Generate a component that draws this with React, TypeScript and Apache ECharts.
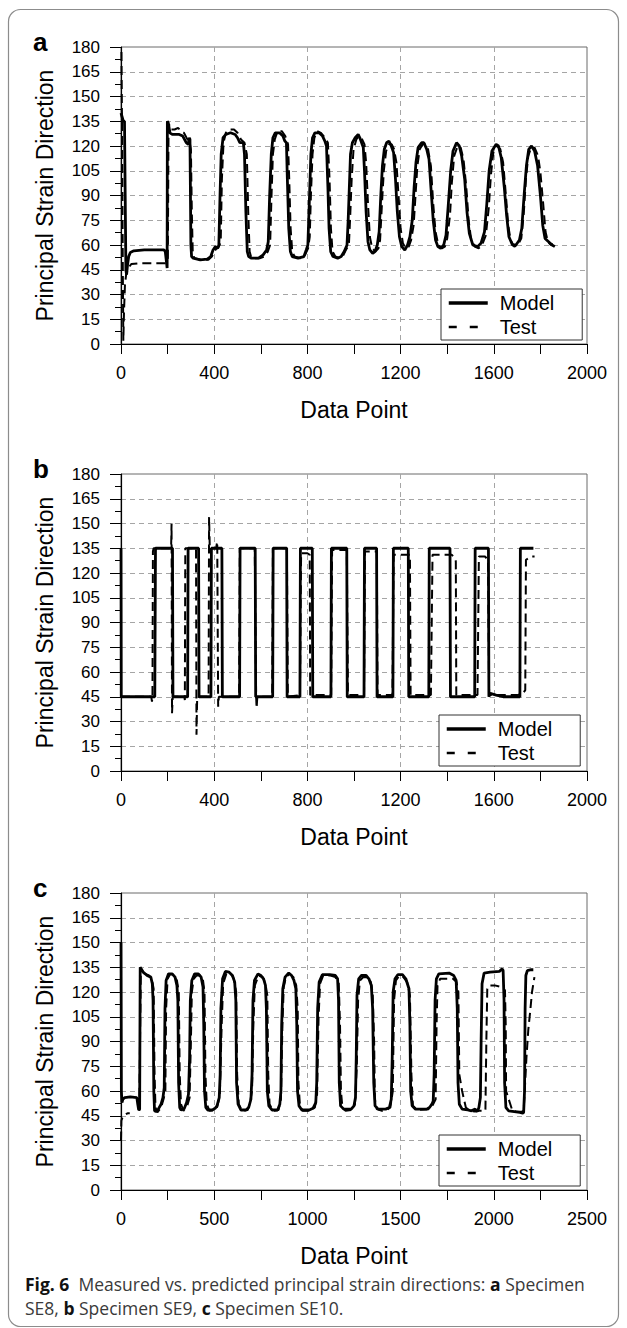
import React, { useEffect, useRef } from "react";
import * as echarts from "echarts";

const FONT = "Liberation Sans, Arial, Helvetica, sans-serif";
const CAPTION_FONT = "Open Sans, Noto Sans, sans-serif";

const LEGEND_NAMES = ["Model", "Test"];
const Y_TICKS = [0, 15, 30, 45, 60, 75, 90, 105, 120, 135, 150, 165, 180];
const X_TICKS_AB = [0, 400, 800, 1200, 1600, 2000];
const X_TICKS_C = [0, 500, 1000, 1500, 2000, 2500];

// Panel a — Specimen SE8
const aModel: [number, number][] = [
  [0, 140], [10, 135], [15, 135], [18, 90], [21, 45], [24, 42], [28, 48], [33, 53], [40, 55.5], [55, 56.5],
  [100, 57], [150, 57], [185, 57], [190, 56], [195, 50], [198, 46], [199, 135], [203, 134], [210, 128], [220, 127],
  [250, 127], [265, 126], [280, 122], [289, 121], [293, 125], [296, 124], [300, 60], [303, 53], [310, 52], [340, 51],
  [370, 51.5], [385, 53], [395, 57], [405, 59], [415, 58], [420, 60], [425, 90], [430, 115], [438, 125], [450, 127],
  [470, 128], [490, 127], [500, 125], [510, 122], [525, 122], [530, 115], [536, 80], [542, 56], [548, 53], [560, 52],
  [590, 52], [610, 54], [625, 57], [632, 62], [638, 90], [645, 115], [652, 125], [662, 128], [680, 128], [695, 126],
  [703, 123], [710, 122], [714, 100], [720, 70], [727, 56], [735, 53], [760, 52], [785, 53], [795, 57], [802, 60],
  [808, 85], [815, 115], [822, 125], [832, 128], [850, 128], [865, 126], [875, 123], [882, 120], [888, 95], [893, 70],
  [900, 56], [910, 53], [930, 52], [945, 53], [958, 56], [970, 60], [975, 75], [980, 95], [985, 115], [993, 122],
  [1005, 125], [1018, 127], [1025, 125], [1035, 121], [1040, 119], [1045, 105], [1052, 80], [1060, 62], [1068, 57], [1080, 55],
  [1090, 56], [1100, 60], [1108, 68], [1115, 90], [1122, 108], [1130, 118], [1140, 122], [1150, 123], [1160, 120], [1170, 116],
  [1178, 100], [1186, 80], [1195, 65], [1205, 59], [1218, 57], [1230, 60], [1240, 65], [1250, 75], [1258, 95], [1266, 110],
  [1275, 119], [1290, 122], [1300, 122], [1312, 118], [1322, 112], [1330, 95], [1340, 75], [1350, 63], [1360, 59], [1372, 58],
  [1385, 60], [1395, 66], [1405, 85], [1415, 105], [1425, 117], [1440, 122], [1452, 120], [1462, 114], [1475, 100], [1485, 80],
  [1495, 67], [1510, 60], [1530, 59], [1545, 61], [1560, 68], [1570, 85], [1580, 105], [1592, 117], [1610, 121], [1620, 120],
  [1632, 113], [1645, 95], [1655, 78], [1665, 65], [1680, 60], [1695, 60], [1710, 63], [1720, 70], [1730, 90], [1740, 108],
  [1750, 118], [1762, 120], [1775, 117], [1788, 108], [1800, 90], [1810, 72], [1820, 64], [1835, 62], [1850, 60], [1862, 59],
];
const aTest: [number, number][] = [
  [2, 177], [5, 120], [8, 40], [10, 2], [13, 20], [17, 36], [22, 42], [30, 46], [45, 48.5], [80, 49],
  [150, 49], [190, 49], [196, 50], [201, 52], [204, 130], [207, 133], [215, 130], [230, 130], [245, 131], [258, 129],
  [270, 128], [285, 124], [295, 122], [300, 118], [304, 80], [308, 55], [315, 52], [345, 51], [375, 51], [390, 53],
  [400, 56], [410, 58], [420, 59], [428, 62], [433, 100], [440, 122], [450, 128], [465, 130], [485, 130], [500, 128],
  [515, 124], [530, 122], [540, 115], [546, 80], [552, 56], [560, 52], [595, 52], [615, 53], [630, 56], [640, 60],
  [646, 90], [652, 115], [660, 124], [672, 129], [690, 129], [705, 126], [717, 121], [722, 100], [728, 70], [735, 56],
  [745, 53], [770, 52], [790, 54], [803, 58], [810, 65], [815, 90], [822, 115], [830, 125], [842, 129], [858, 128],
  [875, 125], [888, 122], [895, 100], [901, 70], [908, 56], [920, 53], [940, 52], [955, 54], [965, 57], [978, 60],
  [983, 75], [990, 100], [998, 118], [1010, 124], [1022, 126], [1035, 124], [1045, 121], [1052, 110], [1060, 85], [1068, 65],
  [1078, 58], [1092, 56], [1105, 58], [1112, 63], [1120, 85], [1128, 105], [1138, 117], [1150, 121], [1162, 121], [1172, 118],
  [1182, 110], [1192, 88], [1200, 70], [1210, 61], [1222, 58], [1235, 59], [1245, 63], [1256, 72], [1264, 90], [1272, 108],
  [1282, 118], [1295, 121], [1305, 121], [1318, 118], [1330, 108], [1340, 85], [1350, 68], [1362, 60], [1377, 58], [1390, 59],
  [1400, 64], [1412, 78], [1420, 98], [1430, 114], [1445, 120], [1458, 119], [1470, 112], [1482, 95], [1492, 75], [1502, 64],
  [1518, 59], [1535, 58], [1550, 60], [1566, 66], [1578, 82], [1588, 103], [1598, 116], [1615, 120], [1628, 118], [1640, 110],
  [1652, 90], [1662, 72], [1672, 63], [1688, 59], [1703, 60], [1718, 64], [1728, 78], [1738, 100], [1748, 114], [1760, 119],
  [1775, 119], [1790, 114], [1800, 104], [1812, 85], [1822, 68], [1832, 62], [1845, 60], [1852, 61],
];

// Panel b — Specimen SE9
const bModel: [number, number][] = [
  [0, 135], [1, 45], [145, 45], [148, 135], [221, 135], [223, 45], [286, 45], [288, 135], [333, 135], [335, 45],
  [386, 45], [388, 135], [433, 135], [435, 45], [509, 45], [511, 135], [576, 135], [578, 45], [651, 45], [653, 135],
  [711, 135], [713, 45], [768, 45], [770, 135], [821, 135], [823, 45], [901, 45], [903, 135], [969, 135], [971, 45],
  [1043, 45], [1045, 135], [1097, 135], [1099, 45], [1167, 45], [1169, 135], [1233, 135], [1235, 45], [1321, 45], [1323, 135],
  [1412, 135], [1414, 45], [1518, 45], [1520, 135], [1577, 135], [1579, 45], [1585, 47], [1610, 46], [1640, 45], [1712, 45],
  [1714, 135], [1770, 135],
];
const bTest: [number, number][] = [
  [0, 45], [130, 45], [133, 42], [135, 45], [137, 133], [140, 135], [215, 135], [217, 150], [219, 35], [222, 45],
  [272, 45], [274, 43], [276, 135], [322, 135], [324, 22], [327, 45], [376, 45], [378, 154], [381, 135], [408, 135],
  [413, 139], [417, 39], [420, 45], [507, 45], [510, 135], [574, 135], [580, 45], [582, 38], [585, 45], [649, 45],
  [652, 135], [712, 135], [716, 45], [768, 46], [773, 132], [800, 132], [810, 131], [812, 46], [902, 46], [906, 134],
  [969, 134], [974, 46], [1043, 46], [1047, 133], [1098, 133], [1101, 46], [1165, 46], [1170, 131], [1240, 131], [1243, 46],
  [1330, 46], [1337, 131], [1420, 131], [1432, 129], [1437, 127], [1439, 46], [1530, 46], [1536, 130], [1562, 130], [1575, 128],
  [1580, 46], [1640, 46], [1700, 46], [1725, 47], [1735, 49], [1738, 128], [1762, 130], [1775, 130],
];

// Panel c — Specimen SE10
const cModel: [number, number][] = [
  [0, 150], [2, 60], [5, 53], [10, 55], [20, 56], [50, 56.5], [85, 56], [90, 52], [95, 48.5], [100, 49],
  [103, 135], [108, 134], [120, 132], [140, 130], [160, 129], [168, 125], [172, 115], [176, 60], [180, 48], [188, 47.5],
  [200, 49], [215, 52], [225, 56], [232, 62], [236, 110], [242, 127], [255, 131], [275, 131], [290, 129], [300, 124],
  [305, 115], [309, 65], [315, 50], [322, 48.5], [340, 49.5], [352, 53], [362, 58], [368, 80], [372, 115], [380, 127],
  [395, 131], [415, 131], [430, 129], [440, 123], [444, 100], [448, 60], [455, 50], [465, 48.5], [490, 48.5], [505, 49.5],
  [515, 51], [527, 56], [532, 70], [536, 110], [545, 128], [560, 132.5], [580, 132], [598, 130], [610, 126], [616, 115],
  [620, 65], [628, 52], [643, 48.5], [670, 48.5], [685, 50], [697, 55], [703, 70], [708, 115], [716, 127], [735, 131],
  [750, 130], [765, 128], [775, 124], [780, 110], [785, 60], [793, 51], [810, 48.5], [840, 48.5], [852, 52], [858, 60],
  [862, 100], [868, 122], [880, 129], [900, 131.5], [915, 130], [928, 127], [938, 122], [943, 100], [947, 60], [955, 51],
  [970, 48.5], [1010, 48.5], [1030, 49.5], [1045, 53], [1050, 65], [1055, 110], [1063, 126], [1080, 130.5], [1120, 130.5], [1150, 130],
  [1162, 128], [1167, 115], [1171, 65], [1178, 51], [1195, 49], [1235, 49], [1250, 51], [1258, 56], [1262, 80], [1266, 118],
  [1275, 128], [1290, 130], [1315, 130], [1330, 128], [1343, 124], [1350, 110], [1356, 65], [1363, 51], [1380, 49], [1420, 49],
  [1440, 50], [1450, 55], [1455, 80], [1460, 120], [1470, 128], [1485, 130.5], [1510, 130.5], [1528, 128], [1545, 122], [1550, 100],
  [1554, 60], [1562, 51], [1580, 49], [1640, 49], [1655, 50], [1668, 52], [1675, 54], [1680, 70], [1685, 115], [1692, 128],
  [1705, 131], [1760, 131.5], [1785, 130], [1798, 127], [1804, 110], [1808, 65], [1815, 52], [1830, 49], [1860, 48.5], [1880, 48],
  [1900, 49], [1912, 47.5], [1920, 50], [1928, 56], [1932, 90], [1937, 125], [1948, 131.5], [1980, 132], [2030, 132.5], [2045, 134],
  [2050, 133], [2055, 115], [2058, 65], [2065, 50], [2080, 48], [2110, 47.5], [2140, 47], [2155, 46.5], [2160, 47], [2165, 60],
  [2168, 110], [2172, 130], [2180, 133], [2200, 133.5], [2212, 133.5],
];
const cTest: [number, number | string][] = [
  [0, 30], [2, 42], [8, 44], [20, 45.5], [35, 46.5], [47, 46.5], [60, "-"], [98, 48], [100, 48], [106, 130],
  [112, 132], [130, 131], [150, 130], [165, 128], [175, 122], [180, 70], [185, 50], [195, 47], [215, 50], [228, 55],
  [238, 60], [242, 110], [250, 128], [265, 131], [285, 130], [300, 127], [310, 120], [315, 70], [322, 52], [335, 48],
  [355, 51], [368, 56], [375, 90], [380, 120], [390, 128], [405, 130], [425, 130], [440, 127], [448, 120], [453, 70],
  [460, 52], [475, 48], [500, 48.5], [515, 50], [530, 57], [540, 100], [548, 125], [565, 131], [590, 131], [605, 128],
  [618, 120], [623, 70], [632, 52], [650, 48], [680, 48.5], [692, 53], [703, 60], [710, 100], [718, 124], [738, 130],
  [760, 129], [775, 125], [785, 118], [790, 70], [797, 52], [815, 48], [845, 48.5], [858, 55], [866, 100], [873, 123],
  [885, 129], [905, 131], [925, 129], [940, 124], [948, 110], [952, 65], [960, 51], [975, 48], [1015, 48], [1040, 50],
  [1052, 58], [1060, 105], [1068, 125], [1085, 130], [1125, 130], [1150, 129], [1168, 126], [1175, 100], [1180, 60], [1188, 50],
  [1205, 48], [1240, 48.5], [1255, 52], [1265, 75], [1272, 115], [1282, 127], [1300, 129], [1325, 129], [1340, 126], [1350, 120],
  [1358, 90], [1362, 55], [1372, 49], [1400, 48], [1425, 48.5], [1445, 50], [1458, 60], [1465, 115], [1475, 127], [1495, 130],
  [1515, 129], [1535, 126], [1550, 118], [1558, 70], [1566, 51], [1590, 48.5], [1650, 49], [1670, 51], [1688, 55], [1693, 100],
  [1698, 124], [1712, 128], [1760, 128], [1781, 128], [1800, 126], [1810, 120], [1815, 70], [1830, 60], [1850, 50], [1870, 48],
  [1900, 47.5], [1920, 48], [1955, 48], [1960, 90], [1965, 122], [1975, 124], [2005, 124], [2040, 123], [2060, 121], [2064, 100],
  [2066, 60], [2080, 55], [2100, 48], [2120, 47.5], [2150, 47.5], [2160, 48], [2165, 58], [2175, 80], [2185, 97], [2195, 108],
  [2205, 120], [2218, 129],
];

const PANELS = [
  { letter: "a", model: aModel, test: aTest, xTicks: X_TICKS_AB, top: 47, legendLeft: 441, legendTop: 289 },
  { letter: "b", model: bModel, test: bTest, xTicks: X_TICKS_AB, top: 474, legendLeft: 439, legendTop: 715 },
  { letter: "c", model: cModel, test: cTest, xTicks: X_TICKS_C, top: 893, legendLeft: 439, legendTop: 1135 },
];

const GRID_LEFT = 121;
const GRID_WIDTH = 466;
const GRID_HEIGHT = 297;

function buildOption() {
  const grid: any[] = [];
  const xAxis: any[] = [];
  const yAxis: any[] = [];
  const series: any[] = [];
  const legend: any[] = [];
  const graphic: any[] = [];

  PANELS.forEach((p, i) => {
    grid.push({
      left: GRID_LEFT,
      top: p.top,
      width: GRID_WIDTH,
      height: GRID_HEIGHT,
      show: true,
      borderColor: "#6a6a6a",
      borderWidth: 1,
      backgroundColor: "transparent",
    });
    const xMin = p.xTicks[0];
    const xMax = p.xTicks[p.xTicks.length - 1];
    xAxis.push({
      gridIndex: i,
      type: "value",
      min: xMin,
      max: xMax,
      interval: p.xTicks[1] - p.xTicks[0],
      axisLine: { show: true, onZero: false, lineStyle: { color: "#000", width: 1.2 } },
      axisTick: { show: true, length: 10, lineStyle: { color: "#000", width: 1 } },
      minorTick: { show: true, splitNumber: 2, length: 10, lineStyle: { color: "#000", width: 1 } },
      axisLabel: {
        fontSize: 18,
        color: "#000",
        margin: 20,
        fontFamily: FONT,
        formatter: (v: number) => String(v),
      },
      splitLine: {
        show: true,
        showMinLine: false,
        showMaxLine: false,
        lineStyle: { type: [5, 4], color: "#a5a5a5", width: 1 },
      },
      name: "Data Point",
      nameLocation: "middle",
      nameGap: 54,
      nameTextStyle: { fontSize: 23, color: "#000", fontFamily: FONT },
    });
    yAxis.push({
      gridIndex: i,
      type: "value",
      min: Y_TICKS[0],
      max: Y_TICKS[Y_TICKS.length - 1],
      interval: Y_TICKS[1] - Y_TICKS[0],
      axisLine: { show: true, onZero: false, lineStyle: { color: "#000", width: 1.2 } },
      axisTick: { show: true, length: 11, lineStyle: { color: "#000", width: 1 } },
      minorTick: { show: true, splitNumber: 2, length: 6, lineStyle: { color: "#000", width: 1 } },
      axisLabel: {
        fontSize: 17,
        color: "#000",
        margin: 21,
        fontFamily: FONT,
        formatter: (v: number) => String(v),
      },
      splitLine: {
        show: true,
        showMinLine: false,
        showMaxLine: false,
        lineStyle: { type: [5, 4], color: "#a5a5a5", width: 1 },
      },
      name: "Principal Strain Direction",
      nameLocation: "middle",
      nameGap: 65,
      nameRotate: 90,
      nameTextStyle: { fontSize: 23, color: "#000", fontFamily: FONT },
    });
    series.push({
      type: "line",
      name: LEGEND_NAMES[1],
      xAxisIndex: i,
      yAxisIndex: i,
      data: p.test,
      showSymbol: false,
      symbol: "none",
      connectNulls: false,
      itemStyle: { color: "#000" },
      lineStyle: { color: "#000", width: 2, type: [9, 5] },
      z: 2,
    });
    series.push({
      type: "line",
      name: LEGEND_NAMES[0],
      xAxisIndex: i,
      yAxisIndex: i,
      data: p.model,
      showSymbol: false,
      symbol: "none",
      itemStyle: { color: "#000" },
      lineStyle: { color: "#000", width: 2.8 },
      z: 3,
    });
    legend.push({
      orient: "vertical",
      left: p.legendLeft,
      top: p.legendTop,
      data: [
        { name: LEGEND_NAMES[0], lineStyle: { width: 3.5, color: "#000", type: "solid" } },
        { name: LEGEND_NAMES[1], lineStyle: { width: 2.5, color: "#000", type: [8, 13] } },
      ],
      itemWidth: 39,
      itemHeight: 14,
      itemGap: 0,
      padding: [2, 28, 1, 6],
      borderColor: "#333",
      borderWidth: 1,
      backgroundColor: "#fff",
      selectedMode: false,
      itemStyle: { opacity: 0, borderWidth: 0 },
      textStyle: { fontSize: 20, color: "#000", fontFamily: FONT, lineHeight: 24, padding: [0, 0, 0, 7] },
      z: 10,
    });
    graphic.push({
      type: "text",
      x: 33,
      y: p.top - 5,
      style: {
        text: p.letter,
        fontSize: 26,
        fontWeight: "bold",
        fontFamily: FONT,
        fill: "#000",
        verticalAlign: "middle",
        align: "left",
      },
    });
  });

  graphic.push({
    type: "rect",
    shape: { x: 8.5, y: 9.5, width: 610, height: 1317, r: 12 },
    style: { fill: "none", stroke: "#8c8c8c", lineWidth: 1.2 },
    silent: true,
  });

  const capBase = { fontSize: 17.5, fontFamily: CAPTION_FONT, lineHeight: 24 };
  graphic.push({
    type: "text",
    x: 25,
    y: 1272,
    style: {
      text:
        "{f|Fig. 6}{r|  Measured vs. predicted principal strain directions: }{b|a}{r| Specimen}\n" +
        "{r|SE8, }{b|b}{r| Specimen SE9, }{b|c}{r| Specimen SE10.}",
      verticalAlign: "top",
      align: "left",
      ...capBase,
      fill: "#333",
      rich: {
        f: { ...capBase, fontWeight: "bold", fill: "#111" },
        b: { ...capBase, fontWeight: "bold", fill: "#111" },
        r: { ...capBase, fontWeight: "normal", fill: "#3a3a3a" },
      },
    },
  });

  return {
    animation: false,
    backgroundColor: "#fff",
    textStyle: { fontFamily: FONT },
    grid,
    xAxis,
    yAxis,
    series,
    legend,
    graphic,
  };
}

export default function App() {
  const ref = useRef<HTMLDivElement>(null);
  useEffect(() => {
    if (!ref.current) return;
    const chart = echarts.init(ref.current, undefined, { renderer: "svg" });
    chart.setOption(buildOption() as any);
    return () => chart.dispose();
  }, []);
  return (
    <div
      ref={ref}
      style={{ position: "absolute", left: 0, top: 0, width: 627, height: 1328, background: "#fff" }}
    />
  );
}
